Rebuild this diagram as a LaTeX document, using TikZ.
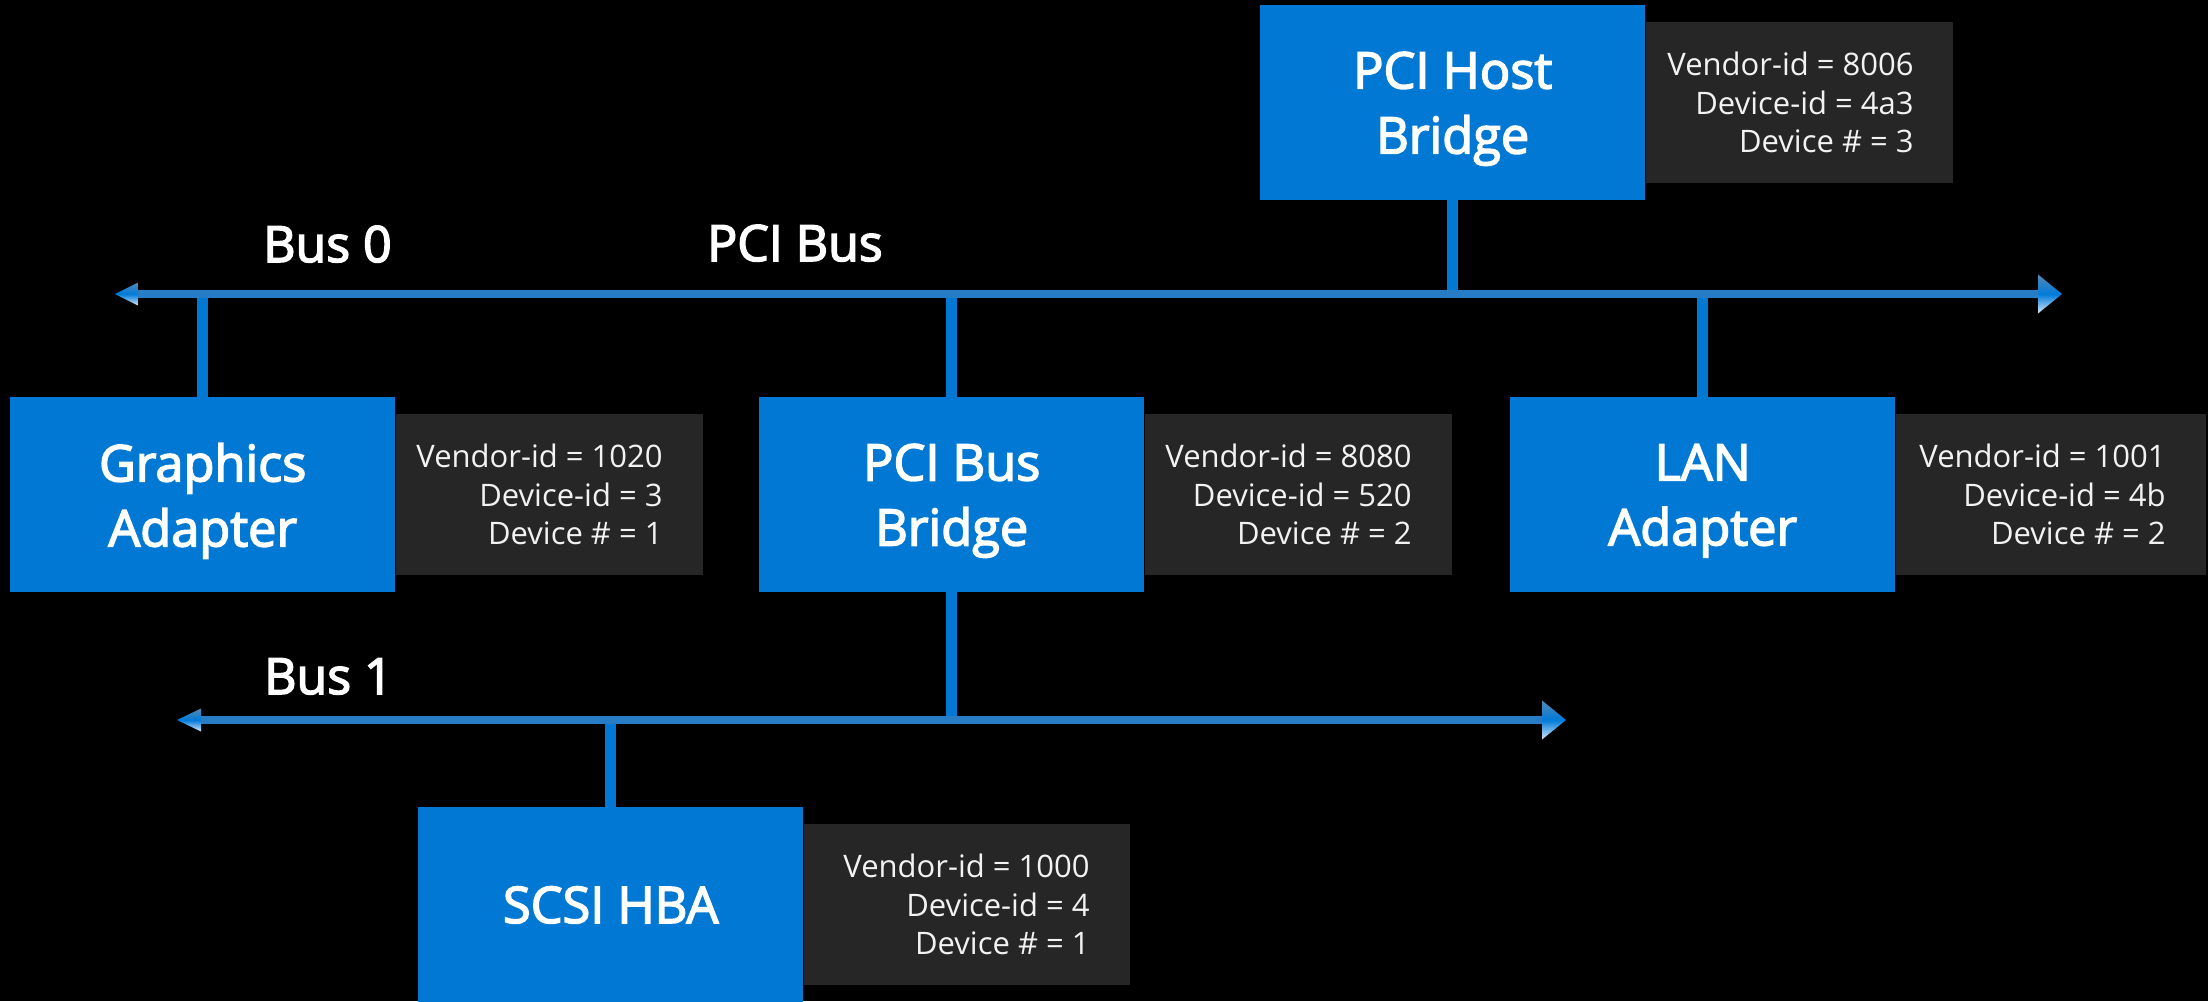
\documentclass[tikz,border=0pt]{standalone}
\usepackage{fontspec}
\setmainfont{Open Sans}
\newfontfamily\semib{Open Sans}[FakeBold=3]
\definecolor{boxblue}{RGB}{0,120,212}
\definecolor{busblue}{RGB}{38,125,198}
\definecolor{infogray}{RGB}{38,38,38}
\definecolor{infotxt}{RGB}{242,242,242}
\definecolor{headtop}{RGB}{84,138,182}
\definecolor{headmid}{RGB}{0,122,217}
\definecolor{headbot}{RGB}{215,232,248}
\begin{document}
\begin{tikzpicture}[x=1pt,y=-1pt,
  devbox/.style={fill=boxblue, text=white, minimum width=385pt, minimum height=195pt,
    inner sep=0pt, align=center, anchor=north west, text depth=0pt,
    font=\fontsize{50.5}{65}\semib\selectfont},
  infobox/.style={fill=infogray, minimum width=307pt, minimum height=161pt, inner sep=0pt, anchor=west},
  infotext/.style={text=infotxt, align=right, inner sep=0pt, anchor=east,
    font=\fontsize{31}{38.5}\selectfont},
  buslbl/.style={text=white, inner sep=0pt, anchor=base west,
    font=\fontsize{50}{58}\semib\selectfont},
  vconn/.style={draw=boxblue, line width=11pt},
  busline/.style={draw=busblue, line width=8pt},
  headshade/.style={top color=headtop, bottom color=headbot, middle color=headmid}
]
\fill[black] (0,0) rectangle (2208,1001);
\useasboundingbox (0,0) rectangle (2208,1001);

% bus end points
\coordinate (b0L) at (115,294);
\coordinate (b0R) at (2062,294);
\coordinate (b1L) at (177,720);
\coordinate (b1R) at (1566,720);

% device boxes
\node[devbox] (host) at (1260,5) {PCI Host\\Bridge};
\node[devbox] (graphics) at (10,397) {Graphics\\Adapter};
\node[devbox] (bridge) at (759,397) {PCI Bus\\Bridge};
\node[devbox] (lan) at (1510,397) {LAN\\Adapter};
\node[devbox] (scsi) at (418,807) {SCSI HBA};

% info boxes
\node[infobox] (hostinfo) at (host.east) {};
\node[infobox] (graphicsinfo) at (graphics.east) {};
\node[infobox] (bridgeinfo) at (bridge.east) {};
\node[infobox, minimum width=310pt] (laninfo) at (lan.east) {};
\node[infobox, minimum width=326pt] (scsiinfo) at (scsi.east) {};

\node[infotext] (hostinfotxt) at ([xshift=-39pt]hostinfo.east) {Vendor-id = 8006\\Device-id = 4a3\\Device \# = 3};
\node[infotext] (graphicsinfotxt) at ([xshift=-40pt]graphicsinfo.east) {Vendor-id = 1020\\Device-id = 3\\Device \# = 1};
\node[infotext] (bridgeinfotxt) at ([xshift=-40pt]bridgeinfo.east) {Vendor-id = 8080\\Device-id = 520\\Device \# = 2};
\node[infotext] (laninfotxt) at ([xshift=-40pt]laninfo.east) {Vendor-id = 1001\\Device-id = 4b\\Device \# = 2};
\node[infotext] (scsiinfotxt) at ([xshift=-40pt]scsiinfo.east) {Vendor-id = 1000\\Device-id = 4\\Device \# = 1};

% bus labels
\node[buslbl] (bus0lbl) at (263,262) {Bus 0};
\node[buslbl] (pcibuslbl) at (707,261) {PCI Bus};
\node[buslbl] (bus1lbl) at (264,694) {Bus 1};

% vertical connectors
\draw[vconn] (host.south) -- (host.south |- b0L);
\draw[vconn] (graphics.north) -- (graphics.north |- b0L);
\draw[vconn] (bridge.north) -- (bridge.north |- b0L);
\draw[vconn] (lan.north) -- (lan.north |- b0L);
\draw[vconn] (bridge.south) -- (bridge.south |- b1L);
\draw[vconn] (scsi.north) -- (scsi.north |- b1L);

% bus lines
\draw[busline] ([xshift=22pt]b0L) -- ([xshift=-22pt]b0R);
\draw[busline] ([xshift=23pt]b1L) -- ([xshift=-23pt]b1R);

% arrow heads
\shade[headshade] (b0L) -- ++(23,-11.5) -- ++(0,23) -- cycle;
\shade[headshade] (b0R) -- ++(-24,-19.5) -- ++(0,39) -- cycle;
\shade[headshade] (b1L) -- ++(24,-11.5) -- ++(0,23) -- cycle;
\shade[headshade] (b1R) -- ++(-24,-19.5) -- ++(0,39) -- cycle;
\end{tikzpicture}
\end{document}
